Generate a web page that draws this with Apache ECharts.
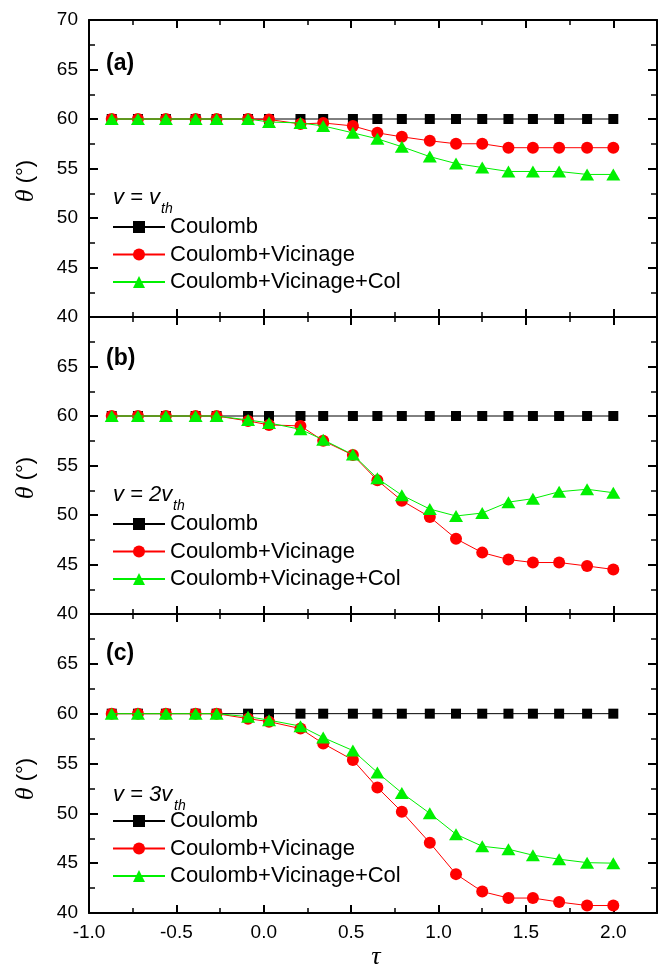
<!DOCTYPE html>
<html>
<head>
<meta charset="utf-8">
<script src="https://cdn.jsdelivr.net/npm/echarts@6/dist/echarts.min.js"></script>
<style>
  html, body { margin: 0; padding: 0; background: #fff; }
  #chart { width: 661px; height: 969px; }
</style>
</head>
<body>
<div id="chart"></div>
<script>
// tau positions of the points (same for all panels)
const tau = [-0.87, -0.72, -0.56, -0.39, -0.27, -0.09, 0.03, 0.21, 0.34, 0.51, 0.65, 0.79, 0.95, 1.10, 1.25, 1.40, 1.54, 1.69, 1.85, 2.00]

const seriesNames = ['Coulomb', 'Coulomb+Vicinage', 'Coulomb+Vicinage+Col']
const panelLabels = ['(a)', '(b)', '(c)']
const speedLabels = ['v = v', 'v = 2v', 'v = 3v']
const xTicks = [-1.0, -0.5, 0.0, 0.5, 1.0, 1.5, 2.0]
const yTicks = [40, 45, 50, 55, 60, 65, 70]

// (a) v = v_th
const coulA = [60, 60, 60, 60, 60, 60, 60, 60, 60, 60, 60, 60, 60, 60, 60, 60, 60, 60, 60, 60]
const vicA = [60, 60, 60, 60, 60, 60, 59.95, 59.5, 59.6, 59.3, 58.6, 58.2, 57.8, 57.5, 57.5, 57.1, 57.1, 57.1, 57.1, 57.1]
const colA = [60, 60, 60, 60, 60, 60, 59.7, 59.6, 59.3, 58.6, 58.0, 57.2, 56.2, 55.5, 55.1, 54.7, 54.7, 54.7, 54.4, 54.4]

// (b) v = 2v_th
const coulB = [60, 60, 60, 60, 60, 60, 60, 60, 60, 60, 60, 60, 60, 60, 60, 60, 60, 60, 60, 60]
const vicB = [60, 60, 60, 60, 60, 59.5, 59.1, 59.0, 57.5, 56.05, 53.5, 51.45, 49.8, 47.6, 46.2, 45.5, 45.2, 45.2, 44.85, 44.5]
const colB = [60, 60, 60, 60, 60, 59.6, 59.3, 58.65, 57.6, 56.1, 53.7, 52.0, 50.6, 49.9, 50.2, 51.3, 51.65, 52.35, 52.6, 52.25]

// (c) v = 3v_th
const coulC = [60, 60, 60, 60, 60, 60, 60, 60, 60, 60, 60, 60, 60, 60, 60, 60, 60, 60, 60, 60]
const vicC = [60, 60, 60, 60, 60, 59.5, 59.2, 58.5, 57.0, 55.35, 52.6, 50.15, 47.05, 43.9, 42.15, 41.5, 41.5, 41.1, 40.75, 40.75]
const colC = [60, 60, 60, 60, 60, 59.7, 59.35, 58.75, 57.6, 56.3, 54.1, 52.05, 50.0, 47.9, 46.7, 46.4, 45.8, 45.4, 45.05, 45.0]

const panels = [
  [coulA, vicA, colA],
  [coulB, vicB, colB],
  [coulC, vicC, colC]
]

const font = '"Liberation Sans", Arial, sans-serif'
const serif = '"Liberation Serif", "Times New Roman", serif'
const colors = ['#000000', '#ff0000', '#00f000']
const symbols = ['rect', 'circle', 'triangle']
const symbolSizes = [10, 12, [14, 12]]

const gridLeft = 89
const gridRight = 4
const panelTops = [20, 317, 614]
const panelH = [297, 297, 299]

const chart = echarts.init(document.getElementById('chart'))

const grids = []
const xAxes = []
const yAxes = []
const series = []
const legends = []
const graphics = []

panels.forEach((vals, i) => {
  const top = panelTops[i]
  grids.push({ left: gridLeft, right: gridRight, top: top, height: panelH[i] })

  // x axes: major + minor ticks, bottom and top
  ;['bottom', 'top'].forEach(pos => {
    xAxes.push({
      gridIndex: i,
      type: 'value',
      position: pos,
      min: xTicks[0],
      max: 2.25,
      interval: 0.5,
      axisLine: { onZero: false, lineStyle: { color: '#000', width: 2 } },
      axisTick: { inside: true, length: 8, lineStyle: { color: '#000', width: 2 } },
      axisLabel: {
        show: pos === 'bottom' && i === 2,
        margin: 10,
        color: '#000',
        fontSize: 19,
        fontFamily: font,
        formatter: v => (v > xTicks[xTicks.length - 1] + 0.01 ? '' : v.toFixed(1))
      },
      splitLine: { show: false }
    })
    xAxes.push({
      gridIndex: i,
      type: 'value',
      position: pos,
      min: xTicks[0],
      max: 2.25,
      interval: 0.25,
      axisLine: { show: false, onZero: false },
      axisTick: { inside: true, length: 5, lineStyle: { color: '#000', width: 1.5 } },
      axisLabel: { show: false },
      splitLine: { show: false }
    })
  })

  // y axes: left with labels, right without
  ;['left', 'right'].forEach(pos => {
    yAxes.push({
      gridIndex: i,
      type: 'value',
      position: pos,
      min: yTicks[0],
      max: yTicks[yTicks.length - 1],
      interval: 5,
      axisLine: { onZero: false, lineStyle: { color: '#000', width: 2 } },
      axisTick: { inside: true, length: 9, lineStyle: { color: '#000', width: 2 } },
      minorTick: { show: true, splitNumber: 2, length: 6, lineStyle: { color: '#000', width: 1.5 } },
      axisLabel: {
        show: pos === 'left',
        margin: 11,
        color: '#000',
        fontSize: 19,
        fontFamily: font,
        formatter: v => (i > 0 && v === 70 ? '' : String(v))
      },
      splitLine: { show: false }
    })
  })

  vals.forEach((ys, k) => {
    series.push({
      name: seriesNames[k],
      type: 'line',
      xAxisIndex: i * 4,
      yAxisIndex: i * 2,
      data: tau.map((t, j) => [t, ys[j]]),
      symbol: symbols[k],
      symbolSize: symbolSizes[k],
      showAllSymbol: true,
      color: colors[k],
      itemStyle: { color: colors[k] },
      lineStyle: { color: colors[k], width: 1 },
      animation: false,
      z: 2 + k
    })
  })

  legends.push({
    orient: 'vertical',
    left: 112,
    top: top + 196,
    padding: 0,
    itemWidth: 52,
    itemHeight: 15,
    itemGap: 5.5,
    selectedMode: false,
    data: seriesNames,
    textStyle: { color: '#000', fontSize: 22, lineHeight: 22, fontFamily: font }
  })

  const speedY = [198, 495, 795][i]
  const subX = [161, 173, 174][i]
  graphics.push(
    {
      type: 'text',
      left: 106,
      top: [52, 347, 642][i],
      style: { text: panelLabels[i], font: 'bold 23px ' + font, fill: '#000' }
    },
    {
      type: 'text',
      x: 113,
      y: speedY,
      style: { text: speedLabels[i], font: 'italic 22px ' + font, fill: '#000', textVerticalAlign: 'middle' }
    },
    {
      type: 'text',
      x: subX,
      y: speedY + 11,
      style: { text: 'th', font: 'italic 14px ' + font, fill: '#000', textVerticalAlign: 'middle' }
    },
    {
      type: 'text',
      x: 26,
      y: [181, 478, 779][i],
      rotation: Math.PI / 2,
      style: {
        text: '{t|θ} (°)',
        font: '22px ' + font,
        fill: '#000',
        textAlign: 'center',
        textVerticalAlign: 'middle',
        rich: {
          t: { fontFamily: serif, fontStyle: 'italic', fontSize: 26, fill: '#000' }
        }
      }
    }
  )
})

graphics.push({
  type: 'text',
  x: 376,
  y: 957,
  style: { text: 'τ', font: 'italic 26px ' + serif, fill: '#000', textAlign: 'center', textVerticalAlign: 'middle' }
})

const option = {
  backgroundColor: '#fff',
  animation: false,
  grid: grids,
  xAxis: xAxes,
  yAxis: yAxes,
  legend: legends,
  series: series,
  graphic: graphics
}

chart.setOption(option)
</script>
</body>
</html>
